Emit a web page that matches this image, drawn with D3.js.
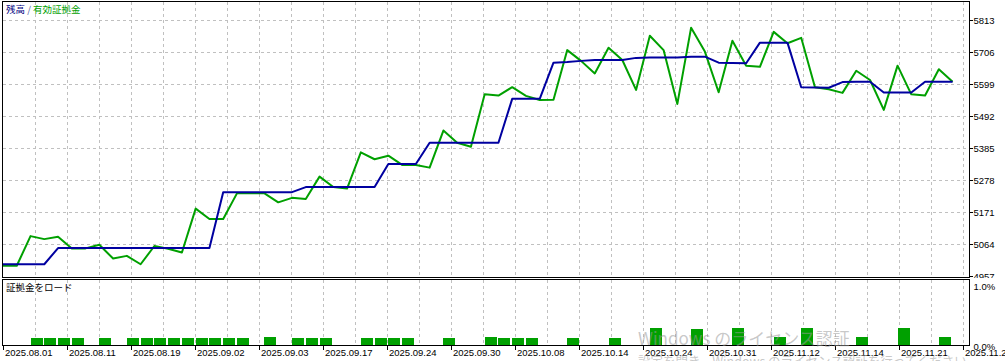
<!DOCTYPE html>
<html>
<head>
<meta charset="utf-8">
<script src="https://cdnjs.cloudflare.com/ajax/libs/d3/7.8.5/d3.min.js"></script>
<style>
  body { margin: 0; background: #fff; }
  #tester-graph { width: 1005px; height: 361px; overflow: hidden; }
  .grid line { stroke: #c0c0c0; stroke-dasharray: 3,3; shape-rendering: crispEdges; }
  .frame { fill: none; stroke: #000; shape-rendering: crispEdges; }
  .tick { stroke: #000; shape-rendering: crispEdges; }
  .axisText { font-family: "Liberation Sans", Arial, sans-serif; font-size: 9.5px; fill: #000; }
  .titleText { font-family: "Noto Sans CJK JP", sans-serif; font-size: 9.5px; }
  .balance { fill: none; stroke: #0000a0; stroke-width: 2; stroke-linejoin: round; }
  .equity { fill: none; stroke: #00a000; stroke-width: 2; stroke-linejoin: round; }
  .loadBar { fill: #00a000; shape-rendering: crispEdges; }
  .watermark { font-family: "Noto Sans CJK JP", sans-serif; fill: #9a9a9a; fill-opacity: 0.55; }
</style>
</head>
<body>
<div id="tester-graph"></div>
<script>
// balance (blue) per trade
const balance = [
  4998, 4998, 4998, 4998, 5052, 5052, 5052, 5052, 5052, 5052,
  5052, 5052, 5052, 5052, 5052, 5052, 5239, 5239, 5239, 5239,
  5239, 5239, 5256, 5256, 5256, 5256, 5256, 5256, 5333, 5333,
  5333, 5404, 5404, 5404, 5404, 5404, 5404, 5551, 5551, 5551,
  5672, 5674, 5678, 5681, 5681, 5681, 5688, 5689, 5689, 5689,
  5692, 5692, 5672, 5671, 5670, 5739, 5739, 5739, 5590, 5589,
  5588, 5607, 5608, 5608, 5572, 5572, 5572, 5608, 5608, 5608
];

// equity (green) per trade
const equity = [
  4993, 4993, 5092, 5082, 5090, 5051, 5051, 5063, 5017, 5026,
  4998, 5059, 5050, 5037, 5184, 5149, 5149, 5235, 5235, 5235,
  5205, 5220, 5216, 5291, 5256, 5251, 5372, 5349, 5361, 5330,
  5330, 5321, 5445, 5404, 5391, 5566, 5562, 5590, 5561, 5547,
  5548, 5714, 5678, 5636, 5722, 5681, 5581, 5762, 5714, 5534,
  5789, 5709, 5573, 5745, 5662, 5658, 5775, 5737, 5755, 5590,
  5583, 5571, 5645, 5614, 5514, 5662, 5566, 5562, 5650, 5608
];

// margin load in %, 0 = no bar
const marginLoad = [
  0, 0, .13, .13, .13, .13, 0, .13, 0, .13,
  .13, .13, .13, .13, .13, .13, .13, .13, 0, .15,
  0, .13, .13, .13, 0, 0, .13, .13, .13, .13,
  0, 0, .13, 0, 0, .15, .13, .13, .13, 0,
  0, .13, 0, 0, .13, 0, 0, .30, 0, 0,
  .28, 0, 0, .30, 0, 0, .15, 0, .30, 0,
  0, 0, .15, 0, 0, .30, 0, 0, .15, 0
];

const yTicks = [4957, 5064, 5171, 5278, 5385, 5492, 5599, 5706, 5813];
const loadTicks = [0, 1];
const loadTickLabels = ["0.0%", "1.0%"];
const xTickLabels = [
  "2025.08.01", "2025.08.11", "2025.08.19", "2025.09.02", "2025.09.03",
  "2025.09.17", "2025.09.24", "2025.09.30", "2025.10.08", "2025.10.14",
  "2025.10.24", "2025.10.31", "2025.11.12", "2025.11.14", "2025.11.21",
  "2025.11.28"
];

/** Class implementing the tester graph (balance / equity + margin load). */
class TesterGraph {

    constructor(){
        this.width = 1005;
        this.height = 361;
        // pixel frame of both panels
        this.main = {left: 2.5, right: 969.5, top: 1.5, bottom: 277.5};
        this.lower = {top: 279.5, bottom: 345.5};

        this.svg = d3.select("#tester-graph").append("svg")
            .attr("width", this.width)
            .attr("height", this.height);
    }

    update(){
        let svg = this.svg;
        let main = this.main, lower = this.lower;

        // trade index -> x
        let xScale = d3.scaleLinear()
            .domain([0, balance.length - 1])
            .range([3, 952.6]);
        // grid divisions along x (labels on every other one)
        let gridX = d3.scaleLinear()
            .domain([0, 30])
            .range([3.5, 963.5]);
        let yScale = d3.scaleLinear()
            .domain([4957, 5813])
            .range([276.5, 20.5]);
        let loadScale = d3.scaleLinear()
            .domain([0, 1])
            .range([345.5, 285.5]);

        let defs = svg.append("defs");
        defs.append("clipPath").attr("id", "mainClip")
            .append("rect").attr("x", 0).attr("y", 0).attr("width", this.width).attr("height", 278);

        // grid
        let grid = svg.append("g").attr("class", "grid");
        grid.selectAll("line.v")
            .data(d3.range(1, 31))
            .enter().append("line")
            .attr("class", "v")
            .attr("x1", d => gridX(d)).attr("x2", d => gridX(d))
            .attr("y1", main.top).attr("y2", main.bottom);
        grid.selectAll("line.vl")
            .data(d3.range(1, 31))
            .enter().append("line")
            .attr("class", "vl")
            .attr("x1", d => gridX(d)).attr("x2", d => gridX(d))
            .attr("y1", lower.top).attr("y2", lower.bottom);
        grid.selectAll("line.h")
            .data(yTicks.slice(1))
            .enter().append("line")
            .attr("class", "h")
            .attr("x1", main.left).attr("x2", main.right)
            .attr("y1", d => yScale(d)).attr("y2", d => yScale(d));

        // margin load bars
        let barW = (xScale(1) - xScale(0)) * 0.87;
        svg.selectAll("rect.loadBar")
            .data(marginLoad.map((v, i) => ({i: i, v: v})).filter(d => d.v > 0))
            .enter().append("rect")
            .attr("class", "loadBar")
            .attr("x", d => Math.round(xScale(d.i)))
            .attr("y", d => Math.round(loadScale(d.v)))
            .attr("width", Math.round(barW))
            .attr("height", d => Math.round(loadScale(0) - loadScale(d.v)));

        // lines
        let line = d3.line()
            .x((d, i) => xScale(i))
            .y(d => yScale(d));
        svg.append("path").datum(equity).attr("class", "equity").attr("d", line);
        svg.append("path").datum(balance).attr("class", "balance").attr("d", line);

        // frames
        svg.append("rect").attr("class", "frame")
            .attr("x", main.left).attr("y", main.top)
            .attr("width", main.right - main.left).attr("height", main.bottom - main.top);
        svg.append("rect").attr("class", "frame")
            .attr("x", main.left).attr("y", lower.top)
            .attr("width", main.right - main.left).attr("height", lower.bottom - lower.top);

        // y axis (right side)
        let yAxis = svg.append("g").attr("clip-path", "url(#mainClip)");
        yAxis.selectAll("line")
            .data(yTicks)
            .enter().append("line")
            .attr("class", "tick")
            .attr("x1", main.right).attr("x2", main.right + 3)
            .attr("y1", d => yScale(d)).attr("y2", d => yScale(d));
        yAxis.selectAll("text")
            .data(yTicks)
            .enter().append("text")
            .attr("class", "axisText")
            .attr("x", main.right + 4)
            .attr("y", d => yScale(d))
            .attr("dy", "0.35em")
            .text(d => d);

        svg.selectAll("text.loadLabel")
            .data(loadTicks)
            .enter().append("text")
            .attr("class", "axisText loadLabel")
            .attr("x", main.right + 4)
            .attr("y", d => loadScale(d) + 1)
            .attr("dy", "0.35em")
            .text((d, i) => loadTickLabels[i]);

        // x axis labels
        svg.selectAll("line.xtick")
            .data(xTickLabels)
            .enter().append("line")
            .attr("class", "tick xtick")
            .attr("x1", (d, i) => gridX(i * 2)).attr("x2", (d, i) => gridX(i * 2))
            .attr("y1", lower.bottom).attr("y2", lower.bottom + 4);
        svg.selectAll("text.xlabel")
            .data(xTickLabels)
            .enter().append("text")
            .attr("class", "axisText xlabel")
            .attr("x", (d, i) => gridX(i * 2) + 1.5)
            .attr("y", 356)
            .text(d => d);

        // titles
        let title = svg.append("text").attr("class", "titleText").attr("x", 6).attr("y", 13);
        title.append("tspan").attr("fill", "#000080").text("残高");
        title.append("tspan").attr("fill", "#5060a0").text(" / ");
        title.append("tspan").attr("fill", "#00a000").text("有効証拠金");

        svg.append("text").attr("class", "titleText")
            .attr("x", 6).attr("y", 291)
            .attr("fill", "#000")
            .text("証拠金をロード");

        // windows activation overlay
        svg.append("text").attr("class", "watermark")
            .attr("x", 638).attr("y", 345)
            .attr("font-size", "17px")
            .text("Windows のライセンス認証");
        svg.append("text").attr("class", "watermark")
            .attr("x", 638).attr("y", 366)
            .attr("font-size", "12.5px")
            .text("設定を開き、Windows のライセンス認証を行ってください。");
    }
}

let graph = new TesterGraph();
graph.update();
</script>
</body>
</html>
